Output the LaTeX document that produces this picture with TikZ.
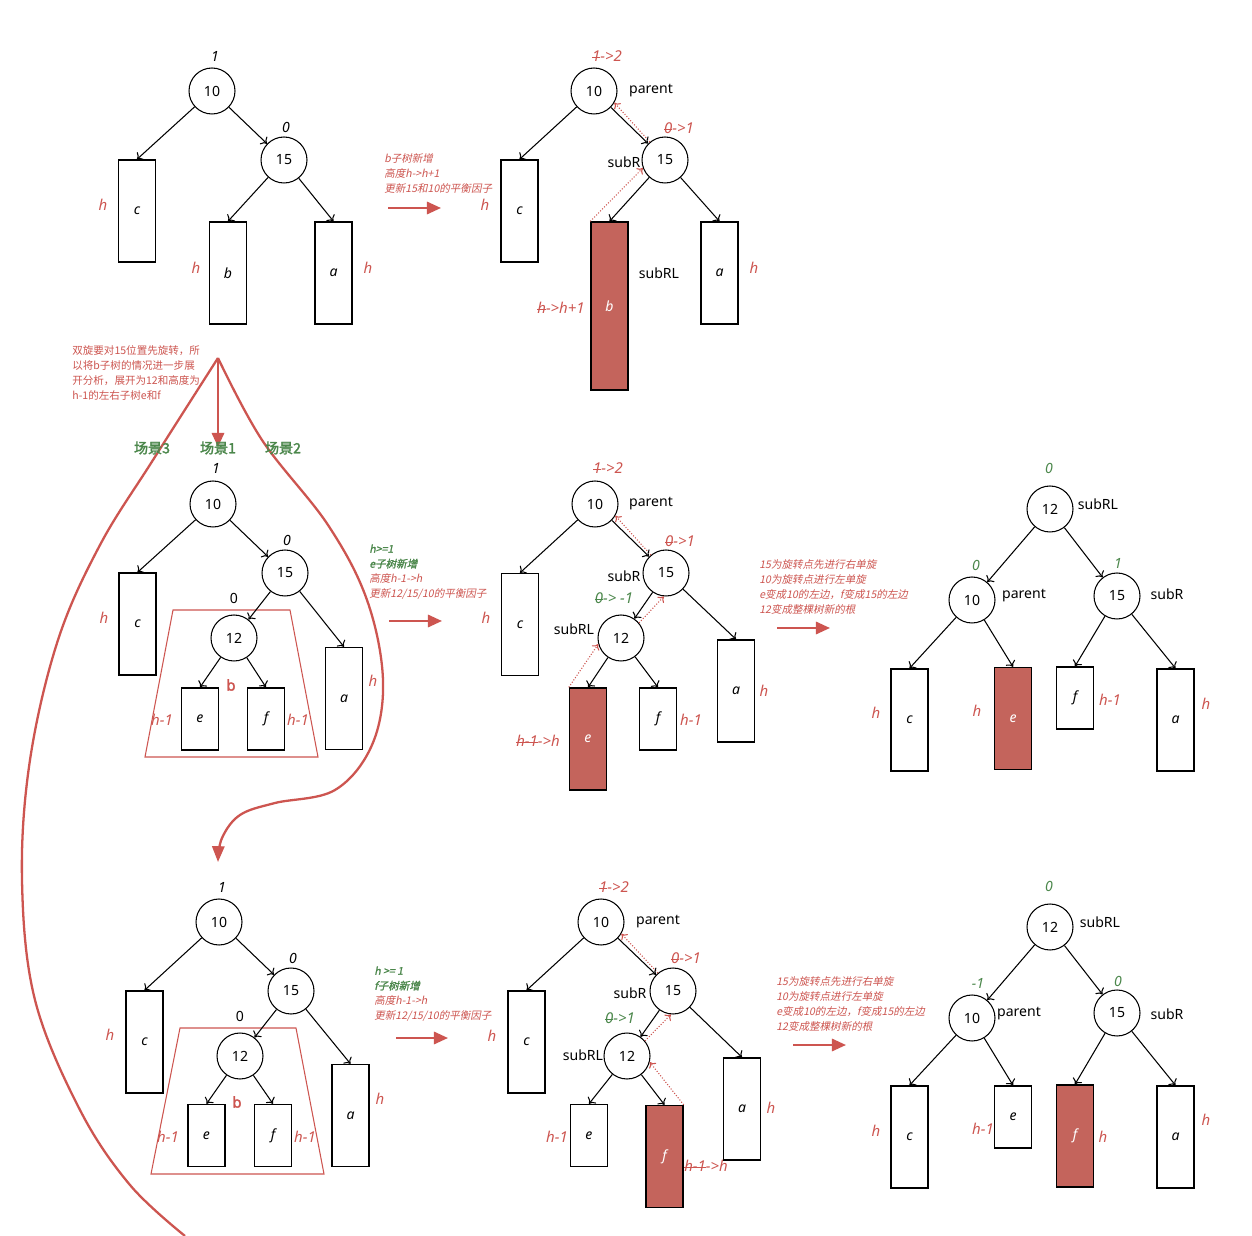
\documentclass[tikz,border=0pt]{standalone}
\usepackage{fontspec}
\setmainfont{Noto Sans}[AutoFakeBold=2.2]
\newfontfamily\cjk{Noto Sans CJK SC}
\newfontfamily\cjkit{Noto Sans CJK SC}[FakeSlant=0.2]
\newfontfamily\cjkbf{Noto Sans CJK SC}[FakeBold=2]
\newfontfamily\cjkitbf{Noto Sans CJK SC}[FakeSlant=0.2,FakeBold=1.5]
\usetikzlibrary{arrows.meta}
\definecolor{hred}{RGB}{205,85,80}
\definecolor{hfill}{RGB}{196,100,92}
\definecolor{hgreen}{RGB}{75,135,75}
\newsavebox\strkbox
\newcommand\strk[1]{\sbox\strkbox{#1}\rlap{#1}\rule[0.5ex]{\wd\strkbox}{0.45pt}}
\tikzset{
  circ/.style={draw, circle, line width=0.6pt, minimum size=0.92cm, inner sep=0pt, font=\fontsize{8}{9}\selectfont},
  box/.style={draw, line width=0.8pt, minimum width=0.74cm, inner sep=0pt, font=\fontsize{8}{9}\selectfont\itshape},
  tbox/.style={box, minimum height=2.04cm},
  sbox/.style={box, minimum height=1.24cm},
  vbox/.style={box, minimum height=3.36cm},
  hot/.style={fill=hfill, text=white},
  link/.style={-{To[length=3pt,width=6pt]}, line width=0.6pt},
  dotback/.style={-{To[length=3pt,width=5pt]}, hred, densely dotted, line width=0.6pt},
  lab/.style={font=\fontsize{8}{9}\selectfont, inner sep=1pt},
  bal/.style={font=\fontsize{8}{9}\selectfont\itshape, inner sep=1pt},
  gbal/.style={font=\fontsize{8}{9}\selectfont\bfseries\itshape, text=hgreen, inner sep=1pt},
  hl/.style={font=\fontsize{8.5}{9}\selectfont\itshape, text=hred, inner sep=1pt},
  bmark/.style={font=\fontsize{8.5}{9}\selectfont\bfseries, text=hred, inner sep=1pt},
  trap/.style={hred, line width=0.6pt},
  note/.style={font=\cjkit\fontsize{6}{8.5}\selectfont, text=hred, align=left, anchor=north west, inner sep=0pt},
  scene/.style={font=\cjkbf\fontsize{8}{9}\selectfont, text=hgreen, inner sep=1pt},
  fwd/.style={-{Triangle[length=8pt,width=7pt]}, hred, line width=1.3pt},
  bigline/.style={hred, line width=1.3pt}
}
\begin{document}
\begin{tikzpicture}[x=0.02cm, y=-0.02cm]
  \fill[white] (0,0) rectangle (1252,1236);
  \useasboundingbox (0,0) rectangle (1252,1236);

  % panel A: before insertion
  \node[circ] (A-10) at (212,91) {10};
  \node[circ] (A-15) at (284,160) {15};
  \node[tbox] (A-c) at (137,211) {c};
  \node[tbox] (A-b) at (228,273) {b};
  \node[tbox] (A-a) at (333.5,273) {a};
  \node[bal] (A-bf10) at (215,56) {1};
  \node[bal] (A-bf15) at (286,127) {0};
  \node[hl] (A-hc) at (103,205) {h};
  \node[hl] (A-hb) at (196,268) {h};
  \node[hl] (A-ha) at (368,268) {h};

  % panel B: b grows
  \node[circ] (B-10) at (594,91) {10};
  \node[circ] (B-15) at (665,160) {15};
  \node[tbox] (B-c) at (519.5,211) {c};
  \node[vbox, hot] (B-b) at (609.5,306) {b};
  \node[tbox] (B-a) at (719.5,273) {a};
  \node[lab] (B-p) at (651,91) {parent};
  \node[lab] (B-sr) at (624,162) {subR};
  \node[lab] (B-srl) at (659,273) {subRL};
  \node[hl] (B-bf10) at (607,56) {\strk{1}->2};
  \node[hl] (B-bf15) at (679,128) {\strk{0}->1};
  \node[hl] (B-hc) at (485,205) {h};
  \node[hl] (B-hb) at (561,308) {\strk{h}->h+1};
  \node[hl] (B-ha) at (754,268) {h};
  \draw[dotback] (B-15.130) -- (B-10.-30);
  \draw[dotback] (B-b.north west) -- (B-15.200);

  % panel C: b split into 12, e, f
  \node[circ] (C-10) at (213,504) {10};
  \node[circ] (C-15) at (285,573) {15};
  \node[circ] (C-12) at (234,638) {12};
  \node[tbox] (C-c) at (137.5,624) {c};
  \node[sbox] (C-e) at (200,719) {e};
  \node[sbox] (C-f) at (266,719) {f};
  \node[tbox] (C-a) at (344,698.5) {a};
  \node[bal] (C-bf10) at (216,468) {1};
  \node[bal] (C-bf15) at (287,540) {0};
  \node[lab] (C-bf12) at (234,598) {0};
  \node[hl] (C-hc) at (104,618) {h};
  \node[hl] (C-he) at (162,720) {h-1};
  \node[hl] (C-hf) at (298,720) {h-1};
  \node[hl] (C-ha) at (373,681) {h};
  \node[bmark] (C-bm) at (231,685) {b};
  \draw[trap] (173,610) -- (290,610) -- (318,757) -- (145,757) -- cycle;

  % panel D: e grows
  \node[circ] (D-10) at (595,504) {10};
  \node[circ] (D-15) at (666,573) {15};
  \node[circ] (D-12) at (621,638) {12};
  \node[tbox] (D-c) at (520,624.5) {c};
  \node[tbox, hot] (D-e) at (588,739) {e};
  \node[sbox] (D-f) at (658,719) {f};
  \node[tbox] (D-a) at (736,691) {a};
  \node[lab] (D-p) at (651,504) {parent};
  \node[lab] (D-sr) at (624,576) {subR};
  \node[lab] (D-srl) at (574,629) {subRL};
  \node[hl] (D-bf10) at (608,468) {\strk{1}->2};
  \node[hl] (D-bf15) at (680,541) {\strk{0}->1};
  \node[hl, text=hgreen] (D-bf12) at (614,598) {\strk{0}-> -1};
  \node[hl] (D-hc) at (486,618) {h};
  \node[hl] (D-he) at (538,741) {\strk{h-1}->h};
  \node[hl] (D-hf) at (691,720) {h-1};
  \node[hl] (D-ha) at (764,691) {h};
  \draw[dotback] (D-15.130) -- (D-10.-30);
  \draw[dotback] (D-12.40) -- (D-15.-95);
  \draw[dotback] (D-e.north west) -- (D-12.195);

  % panel E: after double rotation (e case)
  \node[circ] (E-12) at (1050,509) {12};
  \node[circ] (E-10) at (972,600) {10};
  \node[circ] (E-15) at (1117,596) {15};
  \node[tbox] (E-c) at (909.5,720) {c};
  \node[tbox, hot] (E-e) at (1013,718.5) {e};
  \node[sbox] (E-f) at (1075,698) {f};
  \node[tbox] (E-a) at (1175.5,720) {a};
  \node[lab] (E-srl) at (1098,504) {subRL};
  \node[lab] (E-p) at (1024,596) {parent};
  \node[lab] (E-sr) at (1167,594) {subR};
  \node[gbal] (E-bf12) at (1049,468) {0};
  \node[gbal] (E-bf10) at (976,565) {0};
  \node[gbal] (E-bf15) at (1118,563) {1};
  \node[hl] (E-hc) at (876,713) {h};
  \node[hl] (E-he) at (977,711) {h};
  \node[hl] (E-hf) at (1110,700) {h-1};
  \node[hl] (E-ha) at (1206,704) {h};

  % panel F: b split again
  \node[circ] (F-10) at (219,922) {10};
  \node[circ] (F-15) at (291,991) {15};
  \node[circ] (F-12) at (240,1056) {12};
  \node[tbox] (F-c) at (144.5,1042) {c};
  \node[sbox] (F-e) at (206.5,1135.5) {e};
  \node[sbox] (F-f) at (273,1135.5) {f};
  \node[tbox] (F-a) at (350.5,1115.5) {a};
  \node[bal] (F-bf10) at (222,887) {1};
  \node[bal] (F-bf15) at (293,958) {0};
  \node[lab] (F-bf12) at (240,1016) {0};
  \node[hl] (F-hc) at (110,1035) {h};
  \node[hl] (F-he) at (168,1137) {h-1};
  \node[hl] (F-hf) at (305,1137) {h-1};
  \node[hl] (F-ha) at (380,1099) {h};
  \node[bmark] (F-bm) at (237,1102) {b};
  \draw[trap] (180,1028) -- (296,1028) -- (324,1174) -- (151,1174) -- cycle;

  % panel G: f grows
  \node[circ] (G-10) at (601,922) {10};
  \node[circ] (G-15) at (673,991) {15};
  \node[circ] (G-12) at (627,1056) {12};
  \node[tbox] (G-c) at (526.5,1042) {c};
  \node[sbox] (G-e) at (589,1135.5) {e};
  \node[tbox, hot] (G-f) at (664.5,1156.5) {f};
  \node[tbox] (G-a) at (742,1109) {a};
  \node[lab] (G-p) at (658,922) {parent};
  \node[lab] (G-sr) at (630,993) {subR};
  \node[lab] (G-srl) at (583,1055) {subRL};
  \node[hl] (G-bf10) at (614,887) {\strk{1}->2};
  \node[hl] (G-bf15) at (686,958) {\strk{0}->1};
  \node[hl, text=hgreen] (G-bf12) at (620,1018) {\strk{0}->1};
  \node[hl] (G-hc) at (492,1036) {h};
  \node[hl] (G-he) at (557,1137) {h-1};
  \node[hl] (G-hf) at (706,1166) {\strk{h-1}->h};
  \node[hl] (G-ha) at (771,1108) {h};
  \draw[dotback] (G-15.130) -- (G-10.-30);
  \draw[dotback] (G-12.40) -- (G-15.-95);
  \draw[dotback] (G-f.north east) -- (G-12.-15);

  % panel H: after double rotation (f case)
  \node[circ] (H-12) at (1050,927) {12};
  \node[circ] (H-10) at (972,1018) {10};
  \node[circ] (H-15) at (1117,1013) {15};
  \node[tbox] (H-c) at (909.5,1137) {c};
  \node[sbox] (H-e) at (1013,1117) {e};
  \node[tbox, hot] (H-f) at (1075,1136) {f};
  \node[tbox] (H-a) at (1175.5,1137) {a};
  \node[lab] (H-srl) at (1100,922) {subRL};
  \node[lab] (H-p) at (1019,1014) {parent};
  \node[lab] (H-sr) at (1167,1014) {subR};
  \node[gbal] (H-bf12) at (1049,886) {0};
  \node[gbal] (H-bf10) at (978,983) {-1};
  \node[gbal] (H-bf15) at (1118,981) {0};
  \node[hl] (H-hc) at (876,1131) {h};
  \node[hl] (H-he) at (983,1129) {h-1};
  \node[hl] (H-hf) at (1103,1137) {h};
  \node[hl] (H-ha) at (1206,1120) {h};

  % tree edges
  \foreach \p in {A,B} {
    \draw[link] (\p-10) -- (\p-c.north);
    \draw[link] (\p-10) -- (\p-15);
    \draw[link] (\p-15) -- (\p-b.north);
    \draw[link] (\p-15) -- (\p-a.north);
  }
  \foreach \p in {C,D,F,G} {
    \draw[link] (\p-10) -- (\p-c.north);
    \draw[link] (\p-10) -- (\p-15);
    \draw[link] (\p-15) -- (\p-12);
    \draw[link] (\p-15) -- (\p-a.north);
    \draw[link] (\p-12) -- (\p-e.north);
    \draw[link] (\p-12) -- (\p-f.north);
  }
  \foreach \p in {E,H} {
    \draw[link] (\p-12) -- (\p-10);
    \draw[link] (\p-12) -- (\p-15);
    \draw[link] (\p-10) -- (\p-c.north);
    \draw[link] (\p-10) -- (\p-e.north);
    \draw[link] (\p-15) -- (\p-f.north);
    \draw[link] (\p-15) -- (\p-a.north);
  }

  % step arrows with notes
  \coordinate (AB-s) at (388,208);  \coordinate (AB-e) at (441,208);
  \coordinate (CD-s) at (389,621);  \coordinate (CD-e) at (442,621);
  \coordinate (DE-s) at (777,628);  \coordinate (DE-e) at (830,628);
  \coordinate (FG-s) at (396,1038); \coordinate (FG-e) at (448,1038);
  \coordinate (GH-s) at (793,1045); \coordinate (GH-e) at (846,1045);
  \draw[fwd] (AB-s) -- (AB-e);
  \draw[fwd] (CD-s) -- (CD-e);
  \draw[fwd] (DE-s) -- (DE-e);
  \draw[fwd] (FG-s) -- (FG-e);
  \draw[fwd] (GH-s) -- (GH-e);
  \node[note] (AB-n) at (384,153) {b子树新增\\高度h->h+1\\更新15和10的平衡因子};
  \node[note] (CD-n) at (369,544) {\textcolor{hgreen}{\cjkitbf h>=1}\\\textcolor{hgreen}{\cjkitbf e子树新增}\\高度h-1->h\\更新12/15/10的平衡因子};
  \node[note] (DE-n) at (759,559) {15为旋转点先进行右单旋\\10为旋转点进行左单旋\\e变成10的左边，f变成15的左边\\12变成整棵树新的根};
  \node[note] (FG-n) at (374,966) {\textcolor{hgreen}{\cjkitbf h >= 1}\\\textcolor{hgreen}{\cjkitbf f子树新增}\\高度h-1->h\\更新12/15/10的平衡因子};
  \node[note] (GH-n) at (776,976) {15为旋转点先进行右单旋\\10为旋转点进行左单旋\\e变成10的左边，f变成15的左边\\12变成整棵树新的根};

  % case split on the left
  \node[note, font=\cjk\fontsize{6}{8.5}\selectfont] (split-n) at (72,345) {双旋要对15位置先旋转，所\\以将b子树的情况进一步展\\开分析，展开为12和高度为\\h-1的左右子树e和f};
  \coordinate (apex) at (218,358);
  \coordinate (case1) at (218,447);
  \coordinate (drop) at (218,862);
  \draw[bigline] plot[smooth, tension=0.6] coordinates {(apex) (153,460) (100,545) (58,640) (30,760) (22,880) (35,1000) (80,1110) (130,1185) (185,1236)};
  \draw[bigline, -{Triangle[length=9pt,width=7pt]}] plot[smooth, tension=0.6] coordinates {(apex) (262,440) (328,525) (367,600) (383,680) (372,745) (335,790) (275,803) (240,815) (222,838) (drop)};
  \draw[fwd] (apex) -- (case1);
  \node[scene] (sc3) at (152,448) {场景3};
  \node[scene] (sc1) at (218,448) {场景1};
  \node[scene] (sc2) at (283,448) {场景2};
\end{tikzpicture}
\end{document}
